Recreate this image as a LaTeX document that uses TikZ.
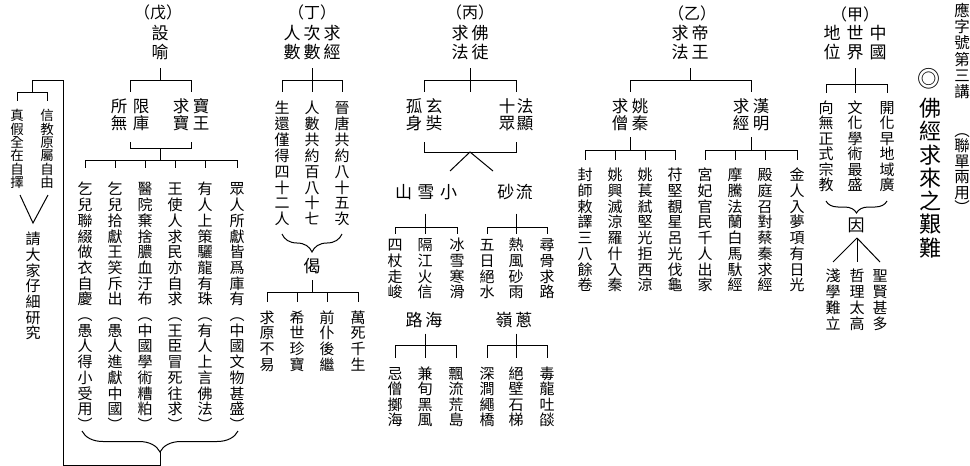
\documentclass[tikz,border=0pt]{standalone}
\usepackage{fontspec}
\newfontfamily\cjk{Noto Sans CJK TC}
\usetikzlibrary{decorations.pathreplacing}
\newdimen\vtpitch
\makeatletter
\def\vt#1#2{\vbox{\offinterlineskip\vtpitch=#1pt\relax\vt@a#2\vt@end}}
\def\vt@end{\vt@end}
\def\vt@a#1{\ifx#1\vt@end\else\hbox to 1em{\hss\vbox to\vtpitch{\vss\hbox{\vrule height .88em depth .12em width 0pt\relax#1}\vss}\hss}\expandafter\vt@a\fi}
\def\hs#1{\hbox{\vrule height .88em depth .12em width 0pt\relax#1}}
\makeatother
\tikzset{
  txt/.style={inner sep=0pt, outer sep=0pt},
  lab/.style={txt, font=\cjk\fontsize{16}{18}\selectfont},
  hdr/.style={txt, font=\cjk\fontsize{17}{19}\selectfont},
  sub/.style={txt, font=\cjk\fontsize{16.5}{18}\selectfont},
  col/.style={txt, font=\cjk\fontsize{15}{16}\selectfont},
  ln/.style={line width=1pt},
  brc/.style={line width=1pt, decorate, decoration={brace, amplitude=#1}},
}
\begin{document}
\begin{tikzpicture}[x=1pt,y=-1pt]
\useasboundingbox (0,0) rectangle (970,466);
\fill[white] (0,0) rectangle (970,466);

% ---------- title ----------
\node[txt, font=\cjk\fontsize{15.5}{16}\selectfont] (t1) at (962,51) {\vt{16.3}{應字號第三講}};
\node[txt, font=\cjk\fontsize{15.5}{16}\selectfont] (t2) at (962,169) {\vt{15.5}{︵聯單兩用︶}};
\node[txt, font=\cjk\fontsize{23}{24}\selectfont] (t3) at (929,79) {◎};
\node[txt, font=\cjk\fontsize{22}{24}\selectfont] (t4) at (930,178) {\vt{23.3}{佛經求來之艱難}};

% ---------- 甲 ----------
\node[lab] (jiaL) at (855,14) {（甲）};
\node[hdr] (jiaH) at (855,43) {\hbox{\vt{19}{地位}\kern6pt\vt{19}{世界}\kern6pt\vt{19}{中國}}};
\coordinate (jiaJ) at (855,84);
\node[col] (jiaC1) at (826,146.5) {\vt{15.5}{向無正式宗教}};
\node[col] (jiaC2) at (855,146.5) {\vt{15.5}{文化學術最盛}};
\node[col] (jiaC3) at (887,146.5) {\vt{15.5}{開化早地域廣}};
\draw[ln, shorten <=6pt] (jiaH.south) -- (jiaJ);
\foreach \c in {jiaC1,jiaC2,jiaC3} \draw[ln, shorten >=7pt] (jiaJ) -| (\c.north);
\coordinate (jiaB1) at (826,201);
\coordinate (jiaB2) at (887,201);
\draw[brc=12pt] (jiaB2) -- (jiaB1);
\node[hdr] (yin) at (856,225) {\vt{17}{因}};
\coordinate (yinP) at (857,238);
\node[col] (jiaD1) at (833,300) {\vt{16}{淺學難立}};
\node[col] (jiaD2) at (857,300) {\vt{16}{哲理太高}};
\node[col] (jiaD3) at (880,300) {\vt{16}{聖賢甚多}};
\foreach \c in {jiaD1,jiaD2,jiaD3} \draw[ln] (yinP) -- ([yshift=6pt]\c.north);

% ---------- 乙 ----------
\node[lab] (yiL) at (692,13) {（乙）};
\node[hdr] (yiH) at (690,43) {\hbox{\vt{19}{求法}\kern3pt\vt{19}{帝王}}};
\coordinate (yiJ) at (690,80);
\node[sub] (yiA) at (630,115) {\hbox{\vt{17}{求僧}\kern3.5pt\vt{17}{姚秦}}};
\node[sub] (yiB) at (751,115) {\hbox{\vt{17}{求經}\kern3.5pt\vt{17}{漢明}}};
\draw[ln, shorten <=6pt] (yiH.south) -- (yiJ);
\foreach \c in {yiA,yiB} \draw[ln, shorten >=6pt] (yiJ) -| (\c.north);
\coordinate (yiAJ) at (630,150);
\coordinate (yiBJ) at (751,150);
\draw[ln, shorten <=5pt] (yiA.south) -- (yiAJ);
\draw[ln, shorten <=5pt] (yiB.south) -- (yiBJ);
\node[col] (yiA1) at (585,230) {\vt{15.75}{封師敕譯三八餘卷}};
\node[col] (yiA2) at (615,230) {\vt{15.75}{姚興滅涼羅什入秦}};
\node[col] (yiA3) at (645,230) {\vt{15.75}{姚萇弒堅光拒西涼}};
\node[col] (yiA4) at (675,230) {\vt{15.75}{苻堅覩星呂光伐龜}};
\node[col] (yiB1) at (705,230) {\vt{15.75}{宮妃官民千人出家}};
\node[col] (yiB2) at (735,230) {\vt{15.75}{摩騰法蘭白馬馱經}};
\node[col] (yiB3) at (765,230) {\vt{15.75}{殿庭召對蔡秦求經}};
\node[col] (yiB4) at (797,230) {\vt{15.75}{金人入夢項有日光}};
\foreach \c in {yiA1,yiA2,yiA3,yiA4} \draw[ln, shorten >=7.5pt] (yiAJ) -| (\c.north);
\foreach \c in {yiB1,yiB2,yiB3,yiB4} \draw[ln, shorten >=7.5pt] (yiBJ) -| (\c.north);

% ---------- 丙 ----------
\node[lab] (bingL) at (470,12.5) {（丙）};
\node[hdr] (bingH) at (470,43) {\hbox{\vt{19}{求法}\kern3pt\vt{19}{佛徒}}};
\coordinate (bingJ) at (470,80);
\coordinate (bingX) at (470,92);
\node[sub] (bingA) at (424,115) {\hbox{\vt{17}{孤身}\kern3.5pt\vt{17}{玄奘}}};
\node[sub] (bingB) at (516,115) {\hbox{\vt{17}{十眾}\kern1.5pt\vt{17}{法顯}}};
\draw[ln, shorten <=6pt] (bingH.south) -- (bingX);
\foreach \c in {bingA,bingB} \draw[ln, shorten >=6pt] (bingJ) -| (\c.north);
\coordinate (bingU) at (470,152);
\draw[ln, shorten <=10pt] (bingA.south) |- (bingU);
\draw[ln, shorten <=10pt] (bingB.south) |- (bingU);
\coordinate (bingV1) at (450,171);
\coordinate (bingV2) at (493,171);
\draw[ln] (bingV1) -- (bingU) -- (bingV2);
\node[hdr] (bingC) at (426,192) {\hs{山\kern5.5pt 雪\kern5.5pt 小}};
\node[hdr] (bingD) at (515,192) {\hs{砂\kern1.5pt 流}};
\coordinate (bingCJ) at (425,227);
\coordinate (bingDJ) at (516,227);
\draw[ln, shorten <=13pt] (bingC.south -| bingCJ) -- (bingCJ);
\draw[ln, shorten <=13pt] (bingD.south -| bingDJ) -- (bingDJ);
\node[col] (bingC1) at (395,268.5) {\vt{15.7}{四杖走峻}};
\node[col] (bingC2) at (425,268.5) {\vt{15.7}{隔江火信}};
\node[col] (bingC3) at (457,268.5) {\vt{15.7}{冰雪寒滑}};
\node[col] (bingD1) at (487,268.5) {\vt{15.7}{五日絕水}};
\node[col] (bingD2) at (516,268.5) {\vt{15.7}{熱風砂雨}};
\node[col] (bingD3) at (547,268.5) {\vt{15.7}{尋骨求路}};
\foreach \c in {bingC1,bingC2,bingC3} \draw[ln, shorten >=3pt] (bingCJ) -| (\c.north);
\foreach \c in {bingD1,bingD2,bingD3} \draw[ln, shorten >=3pt] (bingDJ) -| (\c.north);
\node[hdr] (bingE) at (424,320) {\hs{路\kern3pt 海}};
\node[hdr] (bingF) at (514,320) {\hs{嶺\kern3pt 蔥}};
\coordinate (bingEJ) at (425,345);
\coordinate (bingFJ) at (516,345);
\draw[ln, shorten <=5pt] (bingE.south -| bingEJ) -- (bingEJ);
\draw[ln, shorten <=5pt] (bingF.south -| bingFJ) -- (bingFJ);
\node[col] (bingE1) at (395,397) {\vt{15.5}{忌僧擲海}};
\node[col] (bingE2) at (425,397) {\vt{15.5}{兼旬黑風}};
\node[col] (bingE3) at (456,397) {\vt{15.5}{飄流荒島}};
\node[col] (bingF1) at (487,397) {\vt{15.5}{深澗繩橋}};
\node[col] (bingF2) at (516,397) {\vt{15.5}{絕壁石梯}};
\node[col] (bingF3) at (547,397) {\vt{15.5}{毒龍吐燄}};
\foreach \c in {bingE1,bingE2,bingE3} \draw[ln, shorten >=8pt] (bingEJ) -| (\c.north);
\foreach \c in {bingF1,bingF2,bingF3} \draw[ln, shorten >=8pt] (bingFJ) -| (\c.north);

% ---------- 丁 ----------
\node[lab] (dingL) at (312,12) {（丁）};
\node[hdr] (dingH) at (312,43) {\hbox{\vt{19}{人數}\kern3pt\vt{19}{次數}\kern3pt\vt{19}{求經}}};
\coordinate (dingJ) at (312,80);
\node[col] (dingC1) at (282,163.5) {\vt{15.9}{生還僅得四十二人}};
\node[col] (dingC2) at (312,163.5) {\vt{15.9}{人數共約百八十七}};
\node[col] (dingC3) at (342,163.5) {\vt{15.9}{晉唐共約八十五次}};
\draw[ln, shorten <=6pt] (dingH.south) -- (dingJ);
\foreach \c in {dingC1,dingC2,dingC3} \draw[ln, shorten >=8pt] (dingJ) -| (\c.north);
\coordinate (dingB1) at (282,234);
\coordinate (dingB2) at (342,234);
\draw[brc=18pt] (dingB2) -- (dingB1);
\node[hdr] (jie) at (312,266) {\vt{17}{偈}};
\coordinate (jieJ) at (312,292);
\draw[ln, shorten <=5.5pt] (jie.south) -- (jieJ);
\node[col] (jieC1) at (267,341) {\vt{15.7}{求原不易}};
\node[col] (jieC2) at (297,341) {\vt{15.7}{希世珍寶}};
\node[col] (jieC3) at (327,341) {\vt{15.7}{前仆後繼}};
\node[col] (jieC4) at (358,341) {\vt{15.7}{萬死千生}};
\foreach \c in {jieC1,jieC2,jieC3,jieC4} \draw[ln, shorten >=8pt] (jieJ) -| (\c.north);

% ---------- 戊 ----------
\node[lab] (wuL) at (158,12) {（戊）};
\node[hdr] (wuH) at (160,43) {\vt{19}{設喻}};
\coordinate (wuJ) at (160,80);
\node[sub] (wuA) at (130,115) {\hbox{\vt{17}{所無}\kern5.5pt\vt{17}{限庫}}};
\node[sub] (wuB) at (191,115) {\hbox{\vt{17}{求寶}\kern3.5pt\vt{17}{寶王}}};
\draw[ln, shorten <=6pt] (wuH.south) -- (wuJ);
\foreach \c in {wuA,wuB} \draw[ln, shorten >=6pt] (wuJ) -| (\c.north);
\coordinate (wuU) at (160,148);
\coordinate (wuK) at (160,160);
\draw[ln, shorten <=10pt] (wuA.south) |- (wuU);
\draw[ln, shorten <=10pt] (wuB.south) |- (wuU);
\draw[ln] (wuU) -- (wuK);
\node[col] (wuC1) at (85,307) {\vt{15.7}{乞兒聯綴做衣自慶︵愚人得小受用︶}};
\node[col] (wuC2) at (115,307) {\vt{15.7}{乞兒拾獻王笑斥出︵愚人進獻中國︶}};
\node[col] (wuC3) at (145,307) {\vt{15.7}{醫院棄捨膿血汙布︵中國學術糟粕︶}};
\node[col] (wuC4) at (175,307) {\vt{15.7}{王使人求民亦自求︵王臣冒死往求︶}};
\node[col] (wuC5) at (205,307) {\vt{15.7}{有人上策驪龍有珠︵有人上言佛法︶}};
\node[col] (wuC6) at (237,307) {\vt{15.7}{眾人所獻皆爲庫有︵中國文物甚盛︶}};
\foreach \c in {wuC1,wuC2,wuC3,wuC4,wuC5,wuC6} \draw[ln, shorten >=13pt] (wuK) -| (\c.north);
\coordinate (wuB1) at (82,431);
\coordinate (wuB2) at (238,431);
\draw[brc=21pt] (wuB2) -- (wuB1);
\coordinate (wuT) at (160,452);
\coordinate (wuP1) at (160,465);
\coordinate (wuP2) at (63,465);
\coordinate (wuP3) at (63,80);
\coordinate (wuP4) at (32,80);
\coordinate (wuP5) at (32,92);
\draw[ln] (wuT) -- (wuP1) -- (wuP2) -- (wuP3) -- (wuP4) -- (wuP5);
\node[txt, font=\cjk\fontsize{13.5}{14}\selectfont] (lc1) at (17,149) {\vt{13.4}{真假全在自擇}};
\node[txt, font=\cjk\fontsize{13.5}{14}\selectfont] (lc2) at (47,149) {\vt{13.4}{信教原屬自由}};
\foreach \c in {lc1,lc2} \draw[ln, shorten >=8pt] (wuP5) -| (\c.north);
\coordinate (vL) at (20,195);
\coordinate (vR) at (48,195);
\coordinate (vT) at (33,223);
\draw[ln] (vL) -- (vT) -- (vR);
\node[col] (lc3) at (33,286) {\vt{15.7}{請大家仔細研究}};
\end{tikzpicture}
\end{document}
